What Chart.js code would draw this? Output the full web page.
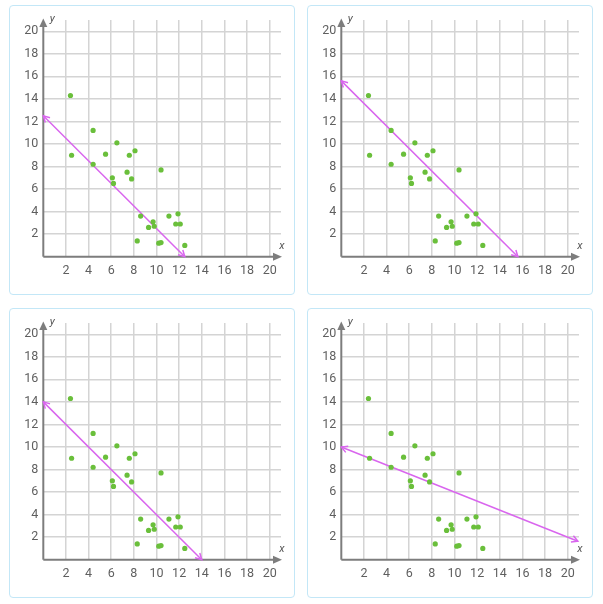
<!DOCTYPE html>
<html><head><meta charset="utf-8">
<script src="https://cdn.jsdelivr.net/npm/chart.js@4"></script>
<style>
html,body{margin:0;padding:0;background:#fff;width:603px;height:604px;overflow:hidden}
.card{position:absolute;width:284px;height:288px;border:1px solid #c3e7f7;border-radius:4px}
.card canvas{position:absolute;left:0;top:0}
</style></head><body>
<div class="card" style="left:9px;top:5px"><canvas id="c0" width="284" height="288"></canvas></div>
<div class="card" style="left:307px;top:5px"><canvas id="c1" width="284" height="288"></canvas></div>
<div class="card" style="left:9px;top:308px"><canvas id="c2" width="284" height="288"></canvas></div>
<div class="card" style="left:307px;top:308px"><canvas id="c3" width="284" height="288"></canvas></div>
<script>
// scatter data (same in every panel)
const xs = [2.4, 2.5, 4.4, 4.4, 5.5, 6.1, 6.2, 6.5, 7.4, 7.6, 7.8, 8.1, 8.3, 8.6, 9.3, 9.7, 9.8, 10.2, 10.4, 10.4, 11.1, 11.7, 11.9, 12.1, 12.5];
const ys = [14.3, 9.0, 11.2, 8.2, 9.1, 7.0, 6.5, 10.1, 7.5, 9.0, 6.9, 9.4, 1.4, 3.6, 2.6, 3.1, 2.7, 1.2, 1.25, 7.7, 3.6, 2.9, 3.8, 2.9, 1.0];
// candidate lines per panel (endpoints)
const lineX1 = [0, 0, 0, 0];
const lineY1 = [12.5, 15.6, 14, 10];
const lineX2 = [12.5, 15.6, 14, 20.9];
const lineY2 = [0, 0, 0, 1.64];
// tick labels
const tickValues = [2, 4, 6, 8, 10, 12, 14, 16, 18, 20];
const axisMin = 0, axisMax = 21;

const LINE_COLOR = '#d966ee';
const POINT_COLOR = '#6abf3b';
const AXIS_COLOR = '#7d7d7d';

const arrowPlugin = {
  id: 'arrows',
  beforeDatasetsDraw(chart) {
    const ctx = chart.ctx, a = chart.chartArea;
    ctx.save();
    ctx.strokeStyle = AXIS_COLOR; ctx.fillStyle = AXIS_COLOR; ctx.lineWidth = 2;
    // x axis
    ctx.beginPath(); ctx.moveTo(a.left, a.bottom); ctx.lineTo(a.right - 6, a.bottom); ctx.stroke();
    ctx.beginPath(); ctx.moveTo(a.right + 1, a.bottom); ctx.lineTo(a.right - 8, a.bottom - 4); ctx.lineTo(a.right - 8, a.bottom + 4); ctx.closePath(); ctx.fill();
    // y axis
    ctx.beginPath(); ctx.moveTo(a.left, a.bottom); ctx.lineTo(a.left, a.top + 6); ctx.stroke();
    ctx.beginPath(); ctx.moveTo(a.left, a.top - 1.5); ctx.lineTo(a.left - 4, a.top + 7); ctx.lineTo(a.left + 4, a.top + 7); ctx.closePath(); ctx.fill();
    // axis titles
    ctx.fillStyle = '#555';
    ctx.font = 'italic 11px Roboto, sans-serif';
    ctx.textAlign = 'center'; ctx.textBaseline = 'middle';
    ctx.fillText('x', a.right + 1, a.bottom - 10);
    ctx.fillText('y', a.left + 9, a.top - 1);
    ctx.restore();
  },
  afterDatasetsDraw(chart) {
    const ctx = chart.ctx;
    const meta = chart.getDatasetMeta(1);
    const p = meta.data;
    if (!p || p.length < 2) return;
    const ends = [[p[0], p[1]], [p[1], p[0]]];
    ctx.save();
    ctx.strokeStyle = LINE_COLOR; ctx.lineWidth = 1.5;
    for (const [tip, other] of ends) {
      const ang = Math.atan2(tip.y - other.y, tip.x - other.x);
      const L = 7, h = 0.5;
      ctx.beginPath();
      ctx.moveTo(tip.x - L * Math.cos(ang - h), tip.y - L * Math.sin(ang - h));
      ctx.lineTo(tip.x, tip.y);
      ctx.lineTo(tip.x - L * Math.cos(ang + h), tip.y - L * Math.sin(ang + h));
      ctx.stroke();
    }
    ctx.restore();
  }
};

function axisOpts(isX) {
  return {
    type: 'linear',
    min: axisMin, max: axisMax,
    afterBuildTicks: s => { s.ticks = tickValues.map(v => ({ value: v })); },
    afterFit: s => { if (isX) s.height = 37.3; else s.width = 33.3; },
    grid: { color: '#d4d4d4', lineWidth: 1.5, drawTicks: false },
    border: { display: false },
    ticks: {
      padding: isX ? 7 : 5,
      color: '#5f5f5f',
      font: { family: 'Roboto, sans-serif', size: 12.5 },
      autoSkip: false, maxRotation: 0
    }
  };
}

for (let i = 0; i < 4; i++) {
  new Chart(document.getElementById('c' + i), {
    data: {
      datasets: [
        {
          type: 'scatter',
          data: xs.map((x, k) => ({ x: x, y: ys[k] })),
          backgroundColor: POINT_COLOR, borderWidth: 0, pointRadius: 2.6, pointHoverRadius: 2.6
        },
        {
          type: 'line',
          data: [{ x: lineX1[i], y: lineY1[i] }, { x: lineX2[i], y: lineY2[i] }],
          borderColor: LINE_COLOR, borderWidth: 1.5, pointRadius: 0, fill: false, clip: false
        }
      ]
    },
    options: {
      responsive: false, animation: false,
      layout: { padding: { left: 0, top: 14, right: 13, bottom: 0 } },
      plugins: { legend: { display: false }, tooltip: { enabled: false } },
      scales: { x: axisOpts(true), y: axisOpts(false) }
    },
    plugins: [arrowPlugin]
  });
}
</script>
</body></html>
